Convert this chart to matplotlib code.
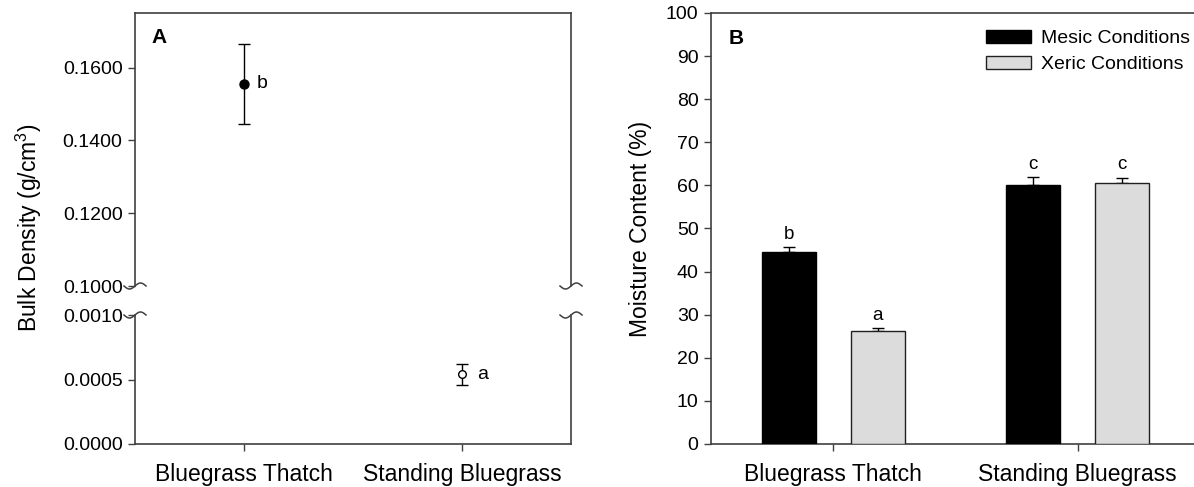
import numpy as np
import matplotlib
matplotlib.use("Agg")
import matplotlib.pyplot as plt
from matplotlib.lines import Line2D

plt.rcParams['font.family'] = ['Liberation Sans', 'DejaVu Sans']
plt.rcParams['mathtext.fontset'] = 'custom'
plt.rcParams['mathtext.rm'] = 'Liberation Sans'
plt.rcParams['mathtext.it'] = 'Liberation Sans'

# data
sites = ['Bluegrass Thatch', 'Standing Bluegrass']
density = [0.1556, 0.00054]
density_err = [0.0110, 0.00008]
density_grp = ['b', 'a']

mesic = [44.6, 60.2]
mesic_err = [1.0, 1.7]
xeric = [26.3, 60.6]
xeric_err = [0.6, 1.2]
mesic_grp = ['b', 'c']
xeric_grp = ['a', 'c']

W, H = 1194, 487
fig = plt.figure(figsize=(W / 100, H / 100), dpi=100)
spine_col = '#404040'

def px_rect(x0, y0, x1, y1):
    # pixel box (top-left origin) -> figure fraction rect
    return [x0 / W, 1 - y1 / H, (x1 - x0) / W, (y1 - y0) / H]

def style(ax):
    for s in ax.spines.values():
        s.set_color(spine_col)
        s.set_linewidth(1.2)
    ax.tick_params(direction='out', length=5, width=1, color=spine_col,
                   labelsize=14, pad=4)

# ---- panel A: broken y axis ----
ax_hi = fig.add_axes(px_rect(135, 13, 571, 286))
ax_lo = fig.add_axes(px_rect(135, 315, 571, 444))
x = np.arange(1, len(sites) + 1)

for ax in (ax_hi, ax_lo):
    style(ax)
    ax.set_xlim(0.5, 2.5)
    ax.errorbar(x[:1], density[:1], yerr=density_err[:1], fmt='o', color='black',
                ms=6.5, mfc='black', mec='black', elinewidth=1, capsize=4.5, capthick=1)
    ax.errorbar(x[1:], density[1:], yerr=density_err[1:], fmt='o', color='black',
                ms=5.5, mfc='white', mec='black', elinewidth=1, capsize=4.5, capthick=1)

ax_hi.set_ylim(0.1, 0.175)
ax_hi.set_yticks([0.1, 0.12, 0.14, 0.16])
ax_hi.set_yticklabels(['0.1000', '0.1200', '0.1400', '0.1600'])
ax_hi.spines['bottom'].set_visible(False)
ax_hi.tick_params(axis='x', bottom=False, labelbottom=False)

ax_lo.set_ylim(0, 0.001)
ax_lo.set_yticks([0, 0.0005, 0.001])
ax_lo.set_yticklabels(['0.0000', '0.0005', '0.0010'])
ax_lo.spines['top'].set_visible(False)
ax_lo.set_xticks(x)
ax_lo.set_xticklabels(sites, fontsize=16.5)
ax_lo.tick_params(axis='x', pad=9)

ax_hi.annotate(density_grp[0], (x[0], density[0]), xytext=(9, 0), textcoords='offset points',
               fontsize=14, va='center', ha='left')
ax_lo.annotate(density_grp[1], (x[1], density[1]), xytext=(11, 0), textcoords='offset points',
               fontsize=14, va='center', ha='left')
ax_hi.text(0.038, 0.945, 'A', transform=ax_hi.transAxes, fontsize=15, fontweight='bold',
           va='top', ha='left')

fig.text(29 / W, 1 - 228 / H, 'Bulk Density (g/cm$^3$)', rotation=90,
         fontsize=16.5, va='center', ha='center')

# break marks on both sides of the gap
def squiggle(xc, yc):
    t = np.linspace(-1, 1, 40)
    xs = (xc + 11 * t) / W
    ys = 1 - (yc - 3 * np.sin(np.pi * t)) / H
    fig.add_artist(Line2D(xs, ys, transform=fig.transFigure, color=spine_col, lw=1.1))

for xc in (135, 571):
    squiggle(xc, 286)
    squiggle(xc, 315)

# ---- panel B: bar chart ----
axb = fig.add_axes(px_rect(711, 13, 1200, 444))
style(axb)
bw = 0.22
off = 0.182
axb.bar(x - off, mesic, bw, color='black', edgecolor='black', lw=1,
        label='Mesic Conditions', zorder=3)
axb.bar(x + off, xeric, bw, color='#dcdcdc', edgecolor='#202020', lw=1,
        label='Xeric Conditions', zorder=3)
axb.errorbar(x - off, mesic, yerr=[np.zeros(2), mesic_err], fmt='none', ecolor='black',
             elinewidth=1, capsize=4.5, capthick=1, zorder=2)
axb.errorbar(x + off, xeric, yerr=[np.zeros(2), xeric_err], fmt='none', ecolor='black',
             elinewidth=1, capsize=4.5, capthick=1, zorder=2)
for xi, v, e, g in zip(x - off, mesic, mesic_err, mesic_grp):
    axb.annotate(g, (xi, v + e), xytext=(0, 6), textcoords='offset points',
                 ha='center', va='baseline', fontsize=13.5)
for xi, v, e, g in zip(x + off, xeric, xeric_err, xeric_grp):
    axb.annotate(g, (xi, v + e), xytext=(0, 6), textcoords='offset points',
                 ha='center', va='baseline', fontsize=13.5)

axb.set_xlim(0.5, 2.5)
axb.set_ylim(0, 100)
axb.set_yticks(np.arange(0, 101, 10))
axb.set_xticks(x)
axb.set_xticklabels(sites, fontsize=16.5)
axb.tick_params(axis='x', pad=9)
axb.set_ylabel('Moisture Content (%)', fontsize=16.5, labelpad=10)
axb.text(0.036, 0.962, 'B', transform=axb.transAxes, fontsize=15, fontweight='bold',
         va='top', ha='left')
axb.legend(loc='upper left', bbox_to_anchor=((986 - 711) / 489, 1 - 17 / 431),
           frameon=False, fontsize=14, handlelength=2.3, handleheight=0.67,
           handletextpad=0.55, labelspacing=0.42, borderpad=0, borderaxespad=0)

fig.savefig('out.png', dpi=100)
